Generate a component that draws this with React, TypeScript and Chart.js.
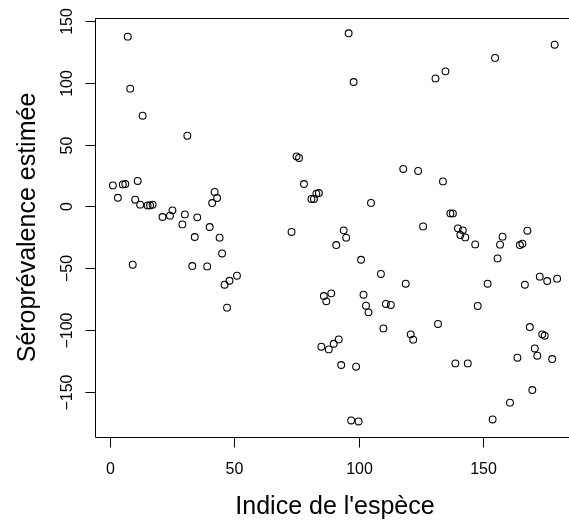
import React, { useEffect, useRef } from "react";
import { Chart, registerables } from "chart.js";

Chart.register(...registerables);

const speciesIndex = [
  1, 3, 5, 6, 7, 8, 9, 10, 11, 12, 13, 15, 16, 17, 21, 24, 25, 29, 30, 31, 33, 34, 35, 39, 40, 41, 42, 43, 44, 45,
  46, 47, 48, 51, 73, 75, 76, 78, 81, 82, 83, 84, 85, 86, 87, 88, 89, 90, 91, 92, 93, 94, 95, 96, 97, 98, 99, 100,
  101, 102, 103, 104, 105, 109, 110, 111, 113, 118, 119, 121, 122, 124, 126, 131, 132, 134, 135, 137, 138, 139,
  140, 141, 142, 143, 144, 147, 148, 152, 154, 155, 156, 157, 158, 161, 164, 165, 166, 167, 168, 169, 170, 171,
  172, 173, 174, 175, 176, 178, 179, 180,
];

const seroprevalence = [
  17.0, 7.0, 17.8, 18.1, 137.4, 95.3, -47.2, 5.4, 20.6, 1.4, 73.4, 0.8, 0.8, 1.4, -8.6, -7.5, -3.2, -14.6, -6.5,
  57.2, -48.3, -24.8, -8.9, -48.6, -16.7, 2.7, 11.7, 6.8, -25.3, -38.1, -63.4, -82.0, -60.2, -56.1, -20.7, 40.5,
  39.2, 18.1, 6.0, 6.0, 10.3, 10.8, -113.6, -72.6, -76.9, -115.8, -70.4, -111.2, -31.3, -107.7, -128.4, -19.4,
  -25.3, 140.1, -173.3, 100.7, -129.8, -174.1, -43.2, -71.5, -80.4, -85.8, 2.8, -54.7, -98.8, -79.0, -79.8, 30.3,
  -62.6, -103.6, -107.9, 28.7, -16.2, 103.6, -95.2, 20.2, 109.3, -5.7, -5.7, -127.1, -17.8, -23.2, -19.4, -25.1,
  -127.1, -30.8, -80.6, -62.6, -172.5, 120.2, -42.1, -31.0, -24.5, -158.9, -122.5, -31.3, -30.2, -63.4, -19.7,
  -97.7, -148.7, -115.0, -120.9, -56.9, -103.6, -104.7, -60.4, -123.6, 130.9, -58.5,
];

const xTickValues = [0, 50, 100, 150];
const yTickValues = [-150, -100, -50, 0, 50, 100, 150];
const xTitle = "Indice de l'espèce";
const yTitle = "Séroprévalence estimée";

const fmt = (v: number) => (v < 0 ? "\u2212" + Math.abs(v) : String(v));

const FONT = '"Liberation Sans", Arial, Helvetica, sans-serif';

const rAxesPlugin = {
  id: "rAxes",
  afterDraw(chart: any) {
    const { ctx, chartArea, scales } = chart;
    const { left, right, top, bottom } = chartArea;
    const xs = scales.x;
    const ys = scales.y;
    ctx.save();
    ctx.strokeStyle = "#000";
    ctx.fillStyle = "#000";
    ctx.lineWidth = 1;
    // box (its right edge lies beyond the visible page, as in the reference)
    ctx.beginPath();
    ctx.moveTo(right + 40, top + 0.5);
    ctx.lineTo(left + 0.5, top + 0.5);
    ctx.lineTo(left + 0.5, bottom + 0.5);
    ctx.lineTo(right + 40, bottom + 0.5);
    ctx.stroke();
    // y ticks
    ctx.font = "16px " + FONT;
    yTickValues.forEach((v) => {
      const py = Math.round(ys.getPixelForValue(v)) + 0.5;
      ctx.beginPath();
      ctx.moveTo(left + 0.5, py);
      ctx.lineTo(left - 9.5, py);
      ctx.stroke();
      ctx.save();
      ctx.translate(71.5, py);
      ctx.rotate(-Math.PI / 2);
      ctx.textAlign = "center";
      ctx.textBaseline = "alphabetic";
      ctx.fillText(fmt(v), 0, 0);
      ctx.restore();
    });
    // x ticks
    xTickValues.forEach((v) => {
      const px = Math.round(xs.getPixelForValue(v)) + 0.5;
      ctx.beginPath();
      ctx.moveTo(px, bottom + 0.5);
      ctx.lineTo(px, bottom + 10.5);
      ctx.stroke();
      ctx.textAlign = "center";
      ctx.textBaseline = "alphabetic";
      ctx.fillText(fmt(v), px, 474);
    });
    // titles
    ctx.font = "25px " + FONT;
    ctx.textAlign = "center";
    ctx.textBaseline = "alphabetic";
    ctx.fillText(xTitle, (left + right) / 2, 514);
    ctx.save();
    ctx.translate(35, (top + bottom) / 2);
    ctx.rotate(-Math.PI / 2);
    ctx.fillText(yTitle, 0, 0);
    ctx.restore();
    ctx.restore();
  },
};

export default function App() {
  const ref = useRef<HTMLCanvasElement>(null);
  useEffect(() => {
    if (!ref.current) return;
    const chart = new Chart(ref.current, {
      type: "scatter",
      data: {
        datasets: [
          {
            data: speciesIndex.map((x, i) => ({ x, y: seroprevalence[i] })),
            pointRadius: 3.4,
            pointBorderWidth: 1.1,
            borderColor: "#000",
            backgroundColor: "rgba(0,0,0,0)",
            pointStyle: "circle",
            clip: false,
          } as any,
        ],
      },
      options: {
        responsive: false,
        animation: false,
        events: [],
        layout: { padding: { left: 95, top: 18, right: 25, bottom: 83 } },
        plugins: { legend: { display: false }, tooltip: { enabled: false } },
        scales: {
          x: { type: "linear", min: -6.2, max: 187.2, display: false },
          y: { type: "linear", min: -186.7, max: 152.5, display: false },
        },
      },
      plugins: [rAxesPlugin],
    });
    return () => chart.destroy();
  }, []);
  return (
    <div
      style={{
        position: "absolute",
        left: 0,
        top: 0,
        width: 569,
        height: 520,
        overflow: "hidden",
        background: "#fff",
      }}
    >
      <canvas ref={ref} width={600} height={520} style={{ display: "block" }} />
    </div>
  );
}
